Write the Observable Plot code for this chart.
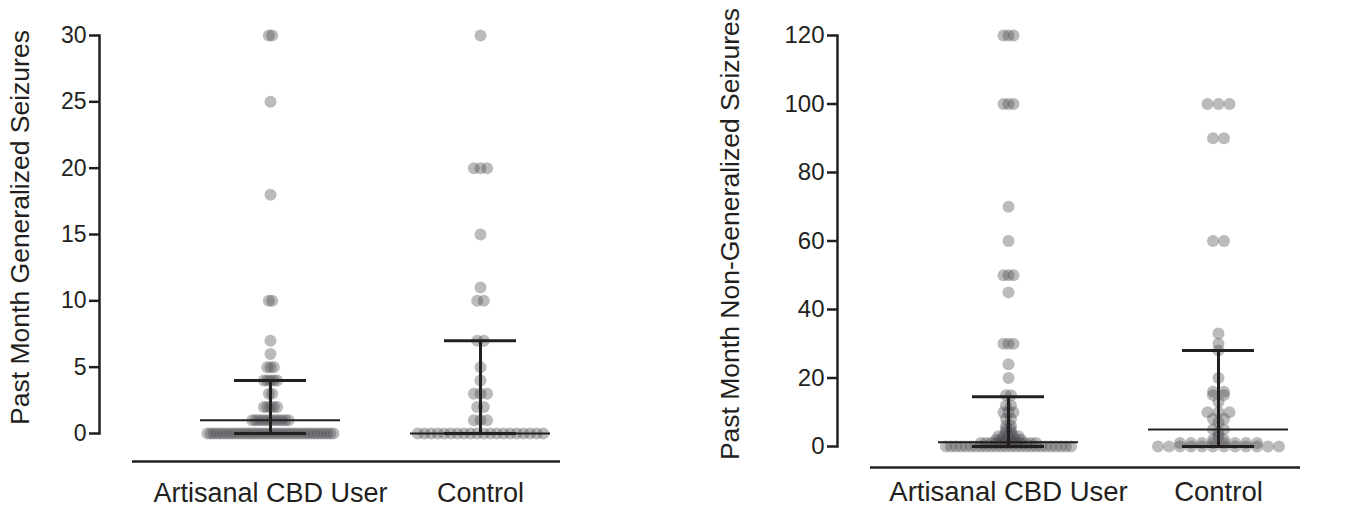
<!DOCTYPE html>
<html><head><meta charset="utf-8">
<script src="https://cdn.jsdelivr.net/npm/d3@7"></script>
<script src="https://cdn.jsdelivr.net/npm/@observablehq/plot@0.6"></script>
<style>
body{margin:0;background:#fff;}
#wrap{display:flex;width:1362px;height:509px;overflow:hidden;}
#wrap svg{flex:none;}
</style></head><body><div id="wrap"></div>
<script>
// ---- data (value, number of participants) ----
const groups = ["Artisanal CBD User", "Control"];
const genCBD = [[30,2],[25,1],[18,1],[10,2],[7,1],[6,1],[5,3],[4,5],[3,2],[2,5],[1,12],[0,40]];
const genControl = [[30,1],[20,3],[15,1],[11,1],[10,2],[7,2],[5,1],[4,1],[3,3],[2,2],[1,3],[0,20]];
const nonGenCBD = [[120,3],[100,3],[70,1],[60,1],[50,3],[45,1],[30,3],[24,1],[20,1],[15,2],[12,2],[10,3],[8,2],[6,2],[5,2],[4,2],[3,5],[2,6],[1,12],[0,26]];
const nonGenControl = [[100,3],[90,2],[60,2],[33,1],[30,1],[28,1],[20,1],[16,2],[15,2],[13,1],[10,3],[8,2],[7,1],[5,2],[4,1],[3,1],[2,2],[1,8],[0,12]];
const genMedian = [1, 0], genQ1 = [0, 0], genQ3 = [4, 7];
const nonGenMedian = [1.25, 5], nonGenQ1 = [0, 0], nonGenQ3 = [14.5, 28];
const genTicks = [0, 5, 10, 15, 20, 25, 30];
const nonGenTicks = [0, 20, 40, 60, 80, 100, 120];
const genTitle = "Past Month Generalized Seizures";
const nonGenTitle = "Past Month Non-Generalized Seizures";

// ---- styling ----
const ink = "#231f20";
const font = "'Liberation Sans', Arial, Helvetica, sans-serif";
const colWidth = 126;      // horizontal spread of a row of dots (px)

function spread(rows, gi, sMax) {
  const out = [];
  for (const [v, n] of rows) {
    const s = n > 1 ? Math.min(sMax, colWidth / (n - 1)) : 0;
    for (let k = 0; k < n; k++) out.push({g: gi, value: v, off: (k - (n - 1) / 2) * s});
  }
  return out;
}

function panel(o) {
  const width = 681, height = 509, marginRight = 20;
  const step = (width - marginRight - o.insetRight) - (o.marginLeft + o.insetLeft);
  const pts = o.rows.flatMap((rows, gi) => spread(rows, gi, o.spacing[gi]))
    .map(d => ({...d, x: d.g + d.off / step}));
  const stats = groups.map((g, i) => ({i, med: o.med[i], q1: o.q1[i], q3: o.q3[i]}));
  const medHalf = 70 / step, capHalf = 36 / step;
  return Plot.plot({
    width, height, marginLeft: o.marginLeft, marginRight, marginTop: o.marginTop, marginBottom: o.marginBottom,
    x: {domain: [0, 1], insetLeft: o.insetLeft, insetRight: o.insetRight, axis: null},
    y: {domain: [0, o.yMax], axis: null},
    style: {fontFamily: font, color: ink, background: "white", overflow: "visible"},
    marks: [
      Plot.dot(pts, {x: "x", y: "value", r: 6, fill: "#46464c", fillOpacity: 0.37}),
      Plot.ruleY(stats, {x1: d => d.i - medHalf, x2: d => d.i + medHalf, y: "med", stroke: ink, strokeWidth: 2}),
      Plot.ruleX(stats, {x: "i", y1: "q1", y2: "q3", stroke: ink, strokeWidth: 3}),
      Plot.ruleY(stats, {x1: d => d.i - capHalf, x2: d => d.i + capHalf, y: "q1", stroke: ink, strokeWidth: 3}),
      Plot.ruleY(stats, {x1: d => d.i - capHalf, x2: d => d.i + capHalf, y: "q3", stroke: ink, strokeWidth: 3}),
      Plot.frame({anchor: "left", stroke: ink, strokeWidth: 2.5}),
      Plot.axisY({ticks: o.ticks, tickSize: 10, tickPadding: 3, fontSize: o.tickFont, strokeWidth: 2.5, label: null}),
      Plot.ruleY([0], {dy: o.axisGap, insetLeft: o.lineInsetLeft, insetRight: o.lineInsetRight, stroke: ink, strokeWidth: 2.5}),
      Plot.axisX({ticks: [0, 1], tickFormat: i => groups[i], tickSize: 0, tickPadding: o.labelPad, fontSize: o.catFont, label: null}),
      Plot.text([o.title], {frameAnchor: "left", rotate: -90, dx: -o.titleOffset, dy: -7, lineAnchor: "top", textAnchor: "middle", fontSize: 26.5, fill: ink})
    ]
  });
}

const wrap = document.getElementById("wrap");
wrap.append(panel({
  marginLeft: 99, marginTop: 35, marginBottom: 76, insetLeft: 171, insetRight: 181,
  yMax: 30, ticks: genTicks, title: genTitle, titleOffset: 89, tickFont: 23, catFont: 27,
  rows: [genCBD, genControl], spacing: [3.3, 6.6],
  med: genMedian, q1: genQ1, q3: genQ3,
  axisGap: 28, lineInsetLeft: 33, lineInsetRight: 101, labelPad: 49
}));
wrap.append(panel({
  marginLeft: 156, marginTop: 35, marginBottom: 63, insetLeft: 171, insetRight: 124,
  yMax: 120, ticks: nonGenTicks, title: nonGenTitle, titleOffset: 117, tickFont: 24, catFont: 27.5,
  rows: [nonGenCBD, nonGenControl], spacing: [5, 11],
  med: nonGenMedian, q1: nonGenQ1, q3: nonGenQ3,
  axisGap: 21, lineInsetLeft: 33, lineInsetRight: 42, labelPad: 35
}));
</script></body></html>
